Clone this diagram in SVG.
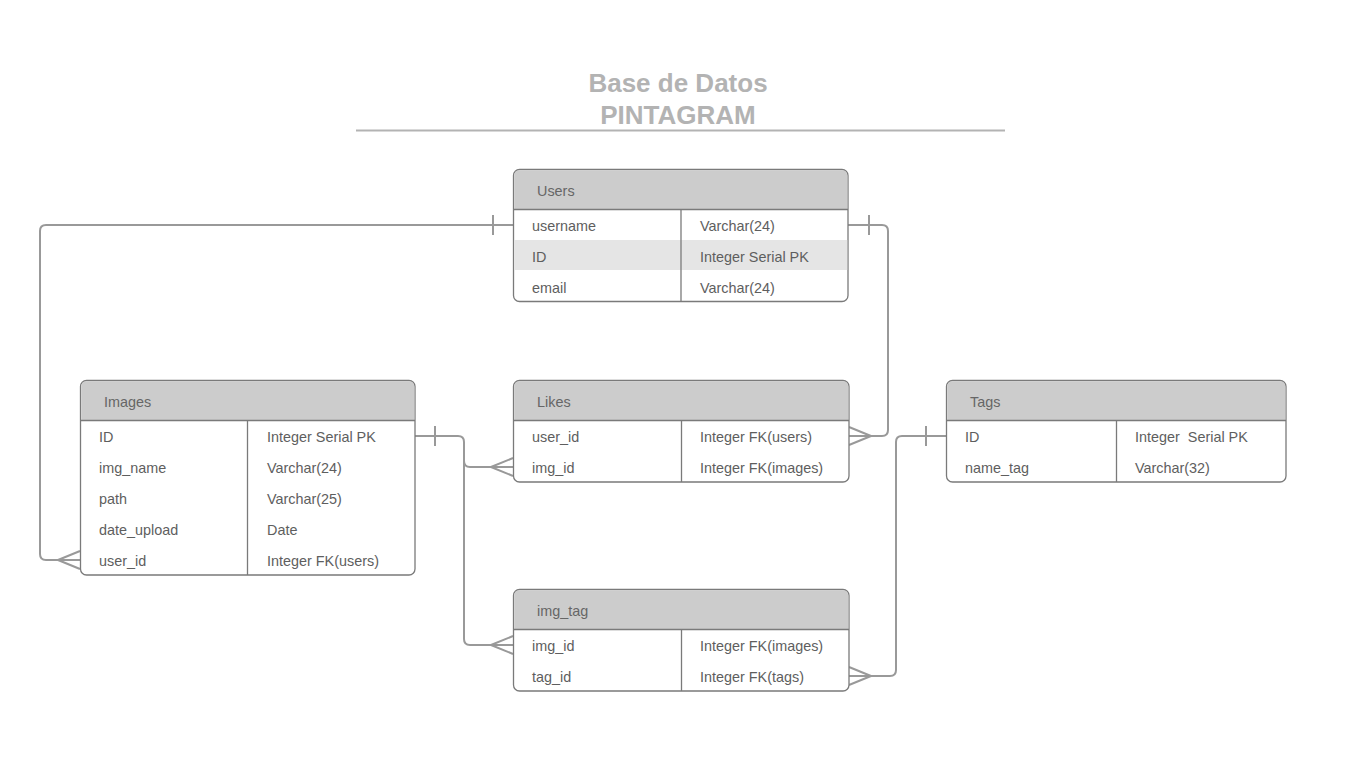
<svg xmlns="http://www.w3.org/2000/svg" width="1347" height="763" viewBox="0 0 1347 763">
<style>
.box{fill:#fff;stroke:#7a7a7a;stroke-width:1.3}
.hdr{fill:#cccccc}
.hl{fill:#e5e5e5}
.div{stroke:#7a7a7a;stroke-width:1.3}
.t{font-family:"Liberation Sans",Arial,sans-serif;font-size:14.4px;fill:#5e5e5e}
.h{font-family:"Liberation Sans",Arial,sans-serif;font-size:14.4px;fill:#666}
.title{font-family:"Liberation Sans",Arial,sans-serif;font-size:26px;font-weight:bold;fill:#b3b3b3;text-anchor:middle}
.c{fill:none;stroke:#999;stroke-width:2;stroke-linejoin:round}
</style>
<rect width="1347" height="763" fill="#fff"/>
<g id="title">
<text class="title" x="678" y="92">Base de Datos</text>
<text class="title" x="678" y="124">PINTAGRAM</text>
<line x1="356" y1="130.5" x2="1005" y2="130.5" stroke="#b3b3b3" stroke-width="2"/>
</g>
<g id="connectors">
<path class="c" d="M513,225 H46 Q40,225 40,231 V554 Q40,560 46,560 H80"/>
<path class="c" d="M493,215 V235 M58,560 L80,551 M58,560 L80,569"/>
<path class="c" d="M848,225 H882 Q888,225 888,231 V430 Q888,436 882,436 H849"/>
<path class="c" d="M869,215 V235 M871,436 L849,427 M871,436 L849,445"/>
<path class="c" d="M415,436 H458 Q464,436 464,442 V461 Q464,467 470,467 H513"/>
<path class="c" d="M435,426 V446 M491,467 L513,458 M491,467 L513,476"/>
<path class="c" d="M464,461 V639 Q464,645 470,645 H513"/>
<path class="c" d="M491,645 L513,636 M491,645 L513,654"/>
<path class="c" d="M946,436 H902 Q896,436 896,442 V670 Q896,676 890,676 H849"/>
<path class="c" d="M926,426 V446 M871,676 L849,667 M871,676 L849,685"/>
</g>
<g id="users">
<rect class="box" x="513.5" y="169.5" width="334.5" height="132" rx="6"/>
<path class="hdr" d="M519.5,170.2 H842 Q847.3,170.2 847.3,176 V209 H514.2 V176 Q514.2,170.2 519.5,170.2 Z"/>
<rect class="hl" x="514.2" y="240" width="333" height="30"/>
<line class="div" x1="513.5" y1="209.5" x2="848" y2="209.5"/>
<line class="div" x1="681" y1="209.5" x2="681" y2="301.5"/>
<text class="h" x="537" y="196">Users</text>
<text class="t" x="532" y="231">username</text><text class="t" x="700" y="231">Varchar(24)</text>
<text class="t" x="532" y="262">ID</text><text class="t" x="700" y="262">Integer Serial PK</text>
<text class="t" x="532" y="293">email</text><text class="t" x="700" y="293">Varchar(24)</text>
</g>
<g id="images">
<rect class="box" x="80.5" y="380.5" width="334.5" height="194.5" rx="6"/>
<path class="hdr" d="M86.5,381.2 H409 Q414.3,381.2 414.3,387 V420 H81.2 V387 Q81.2,381.2 86.5,381.2 Z"/>
<line class="div" x1="80.5" y1="420.5" x2="415" y2="420.5"/>
<line class="div" x1="247.5" y1="420.5" x2="247.5" y2="575"/>
<text class="h" x="104" y="407">Images</text>
<text class="t" x="99" y="442">ID</text><text class="t" x="267" y="442">Integer Serial PK</text>
<text class="t" x="99" y="473">img_name</text><text class="t" x="267" y="473">Varchar(24)</text>
<text class="t" x="99" y="504">path</text><text class="t" x="267" y="504">Varchar(25)</text>
<text class="t" x="99" y="535">date_upload</text><text class="t" x="267" y="535">Date</text>
<text class="t" x="99" y="566">user_id</text><text class="t" x="267" y="566">Integer FK(users)</text>
</g>
<g id="likes">
<rect class="box" x="513.5" y="380.5" width="335.5" height="101.5" rx="6"/>
<path class="hdr" d="M519.5,381.2 H843 Q848.3,381.2 848.3,387 V420 H514.2 V387 Q514.2,381.2 519.5,381.2 Z"/>
<line class="div" x1="513.5" y1="420.5" x2="849" y2="420.5"/>
<line class="div" x1="681.5" y1="420.5" x2="681.5" y2="482"/>
<text class="h" x="537" y="407">Likes</text>
<text class="t" x="532" y="442">user_id</text><text class="t" x="700" y="442">Integer FK(users)</text>
<text class="t" x="532" y="473">img_id</text><text class="t" x="700" y="473">Integer FK(images)</text>
</g>
<g id="tags">
<rect class="box" x="946.5" y="380.5" width="339.5" height="101.5" rx="6"/>
<path class="hdr" d="M952.5,381.2 H1280 Q1285.3,381.2 1285.3,387 V420 H947.2 V387 Q947.2,381.2 952.5,381.2 Z"/>
<line class="div" x1="946.5" y1="420.5" x2="1286" y2="420.5"/>
<line class="div" x1="1116.5" y1="420.5" x2="1116.5" y2="482"/>
<text class="h" x="970" y="407">Tags</text>
<text class="t" x="965" y="442">ID</text><text class="t" x="1135" y="442">Integer&#160; Serial PK</text>
<text class="t" x="965" y="473">name_tag</text><text class="t" x="1135" y="473">Varchar(32)</text>
</g>
<g id="img_tag">
<rect class="box" x="513.5" y="589.5" width="335.5" height="101.5" rx="6"/>
<path class="hdr" d="M519.5,590.2 H843 Q848.3,590.2 848.3,596 V629 H514.2 V596 Q514.2,590.2 519.5,590.2 Z"/>
<line class="div" x1="513.5" y1="629.5" x2="849" y2="629.5"/>
<line class="div" x1="681.5" y1="629.5" x2="681.5" y2="691"/>
<text class="h" x="537" y="616">img_tag</text>
<text class="t" x="532" y="651">img_id</text><text class="t" x="700" y="651">Integer FK(images)</text>
<text class="t" x="532" y="682">tag_id</text><text class="t" x="700" y="682">Integer FK(tags)</text>
</g>
</svg>
